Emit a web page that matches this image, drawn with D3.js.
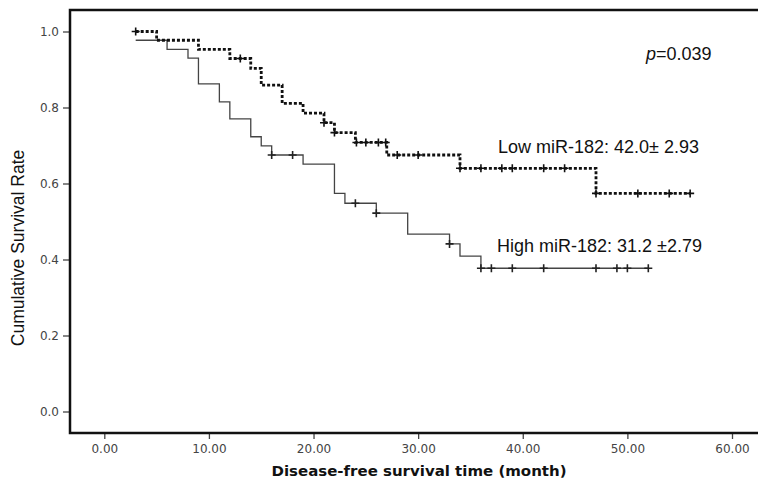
<!DOCTYPE html>
<html>
<head>
<meta charset="utf-8">
<script src="https://cdn.jsdelivr.net/npm/d3@7"></script>
<style>
  body { margin: 0; background: #fff; }
</style>
</head>
<body>
<svg id="km_plot"></svg>
<script>
// survival steps: time (month) where each level starts, and the level
let low_time  = [3, 5, 9, 12, 14, 15, 17, 19, 21, 22, 24, 27, 34, 47, 56]
let low_surv  = [1.0, 0.977, 0.953, 0.929, 0.903, 0.859, 0.811, 0.785, 0.760, 0.734, 0.708, 0.675, 0.640, 0.574, 0.574]
let low_censor = [3, 13, 21, 22, 24.1, 25, 26.2, 26.9, 28, 30, 34, 36, 38, 39, 42, 44, 47, 51, 54, 56]

let high_time = [3, 6, 8, 9, 11, 12, 14, 15, 16, 19, 22, 23, 26, 29, 33, 34, 36, 52]
let high_surv = [0.977, 0.953, 0.930, 0.862, 0.815, 0.770, 0.723, 0.699, 0.675, 0.651, 0.574, 0.548, 0.522, 0.467, 0.441, 0.409, 0.377, 0.377]
let high_censor = [16, 18, 24, 26, 33, 36, 37, 39, 42, 47, 49, 50, 52]

let x_ticks = [0, 10, 20, 30, 40, 50, 60]
let y_ticks = [0, 0.2, 0.4, 0.6, 0.8, 1.0]

let w_km = 758
let h_km = 482

let svg_km = d3.select("#km_plot")
               .attr("width", w_km)
               .attr("height", h_km)

let x = d3.scaleLinear().domain([0, 60]).range([104.3, 732])
let y = d3.scaleLinear().domain([0, 1]).range([411.5, 31.5])

let frame_left = 70
let frame_top = 10
let frame_bottom = 433

// y axis ticks
let y_axis = svg_km.append("g")
                   .attr("transform", "translate(" + frame_left + ",0)")
                   .call(d3.axisLeft(y).tickValues(y_ticks).tickSize(7).tickPadding(4).tickFormat(d3.format(".1f")))
y_axis.select(".domain").remove()
y_axis.selectAll("line").attr("stroke", "#444").attr("stroke-width", 1.3)
y_axis.selectAll("text")
      .attr("font-family", "DejaVu Sans")
      .attr("font-size", 12)
      .attr("fill", "#444")

// x axis ticks
let x_axis = svg_km.append("g")
                   .attr("transform", "translate(0," + frame_bottom + ")")
                   .call(d3.axisBottom(x).tickValues(x_ticks).tickSize(6).tickPadding(5).tickFormat(d3.format(".2f")))
x_axis.select(".domain").remove()
x_axis.selectAll("line").attr("stroke", "#444").attr("stroke-width", 1.3)
x_axis.selectAll("text")
      .attr("font-family", "DejaVu Sans")
      .attr("font-size", 12)
      .attr("fill", "#444")

// frame (right side runs off the picture)
svg_km.append("path")
      .attr("d", "M" + w_km + "," + frame_top + "H" + frame_left + "V" + frame_bottom + "H" + w_km)
      .attr("fill", "none")
      .attr("stroke", "#111")
      .attr("stroke-width", 2.5)

// step curves
let step_line = d3.line()
                  .x(d => x(d[0]))
                  .y(d => y(d[1]))
                  .curve(d3.curveStepAfter)

let high_pts = high_time.map((t, i) => [t, high_surv[i]])
let low_pts = low_time.map((t, i) => [t, low_surv[i]])

svg_km.append("path")
      .attr("d", step_line(high_pts))
      .attr("fill", "none")
      .attr("stroke", "#444")
      .attr("stroke-width", 1.3)

svg_km.append("path")
      .attr("d", step_line(low_pts))
      .attr("fill", "none")
      .attr("stroke", "#111")
      .attr("stroke-width", 2.8)
      .attr("stroke-dasharray", "3,2")

// level of a step curve at time t
function level_at(times, surv, t){
  let s = surv[0]
  for (let i = 0; i < times.length; i++){
    if (times[i] <= t + 0.05) s = surv[i]
  }
  return s
}

function draw_censor(censor, times, surv, col){
  svg_km.append("g")
        .selectAll("path")
        .data(censor)
        .join("path")
        .attr("d", d => {
          let cx = x(d), cy = y(level_at(times, surv, d))
          return "M" + (cx - 4) + "," + cy + "H" + (cx + 4) + "M" + cx + "," + (cy - 4) + "V" + (cy + 4)
        })
        .attr("stroke", col)
        .attr("stroke-width", 1.6)
}

draw_censor(high_censor, high_time, high_surv, "#222")
draw_censor(low_censor, low_time, low_surv, "#111")

// annotations
let p_text = svg_km.append("text")
                   .attr("x", 646)
                   .attr("y", 59.5)
                   .attr("font-family", "Liberation Sans")
                   .attr("font-size", 18)
                   .attr("fill", "#111")
p_text.append("tspan").attr("font-style", "italic").text("p")
p_text.append("tspan").text("=0.039")

svg_km.append("text")
      .attr("x", 498)
      .attr("y", 152.5)
      .attr("font-family", "Liberation Sans")
      .attr("font-size", 18)
      .attr("fill", "#111")
      .text("Low miR-182: 42.0\u00b1 2.93")

svg_km.append("text")
      .attr("x", 497)
      .attr("y", 251.5)
      .attr("font-family", "Liberation Sans")
      .attr("font-size", 18)
      .attr("fill", "#111")
      .text("High miR-182: 31.2 \u00b12.79")

// axis titles
svg_km.append("text")
      .attr("x", 419)
      .attr("y", 476)
      .attr("text-anchor", "middle")
      .attr("font-family", "DejaVu Sans")
      .attr("font-weight", "bold")
      .attr("font-size", 14)
      .attr("textLength", 295)
      .attr("lengthAdjust", "spacingAndGlyphs")
      .attr("fill", "#111")
      .text("Disease-free survival time (month)")

svg_km.append("text")
      .attr("transform", "translate(24,248) rotate(-90)")
      .attr("text-anchor", "middle")
      .attr("font-family", "Liberation Sans")
      .attr("font-size", 17.5)
      .attr("fill", "#111")
      .text("Cumulative Survival Rate")
</script>
</body>
</html>
